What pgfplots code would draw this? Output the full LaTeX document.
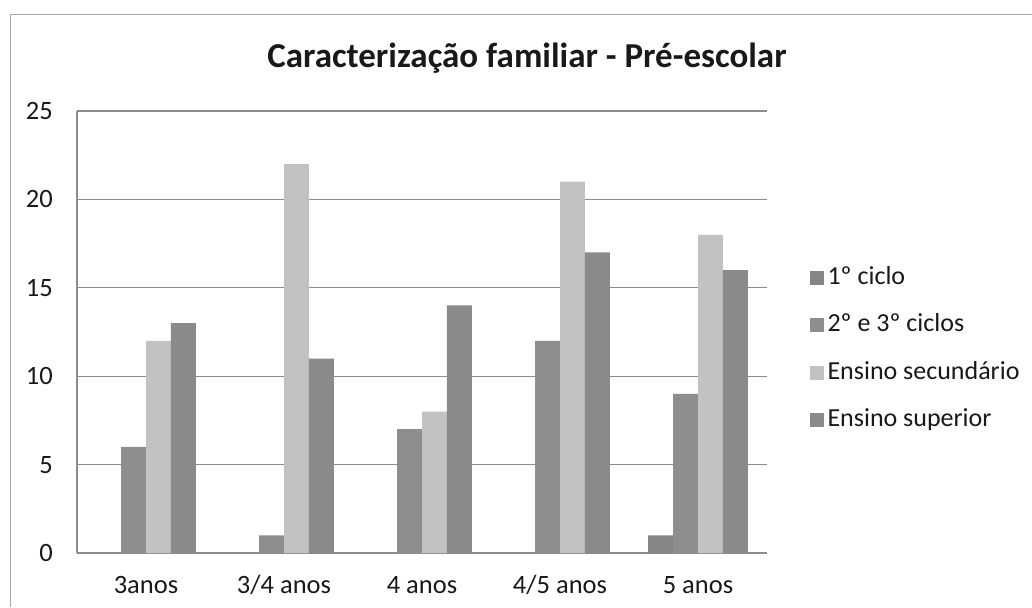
\documentclass[border=0pt]{standalone}
\usepackage{fontspec}
\setmainfont{Carlito}
\usepackage{pgfplots}
\pgfplotsset{compat=1.18}
\definecolor{cA}{HTML}{858585}
\definecolor{cB}{HTML}{8E8E8E}
\definecolor{cC}{HTML}{C2C2C2}
\definecolor{cD}{HTML}{8A8A8A}
\definecolor{gridc}{HTML}{8C8C8C}
\begin{document}
\begin{tikzpicture}[x=1pt,y=1pt]
\useasboundingbox (0,0) rectangle (1032,607);
\fill[white] (0,0) rectangle (1032,607);
\draw[gray!70, line width=1pt] (10,0) -- (10,592) -- (1032,592);
\node[anchor=base, font=\fontsize{35}{38}\selectfont\bfseries, text=black!90] at (527,539) {Caracterização familiar - Pré-escolar};
\begin{axis}[
  at={(77pt,54pt)}, anchor=south west,
  width=690pt, height=442pt, scale only axis,
  ybar=0pt, bar width=0.181,
  xmin=-0.5, xmax=4.5, ymin=0, ymax=25,
  xtick={0,...,4}, xticklabels={3anos,3/4 anos,4 anos,4/5 anos,5 anos},
  ytick={0,5,...,25},
  /pgf/number format/assume math mode=true,
  axis x line=bottom, axis y line=left,
  axis line style={-, draw=gridc, line width=1.1pt},
  ymajorgrids, grid style={gridc, line width=1.1pt},
  major tick length=0pt,
  tick label style={font=\fontsize{26.5}{30}\selectfont, text=black!90},
  yticklabel style={anchor=base east, inner sep=0pt, xshift=-24pt, yshift=-8.5pt},
  xticklabel style={anchor=base, inner sep=0pt, yshift=-40pt},
  legend style={at={(1.057,0.462)}, anchor=west, draw=none, fill=none,
    font=\fontsize{26}{30}\selectfont, text=black!90,
    nodes={inner sep=0pt, text height=19pt, text depth=6pt},
    row sep=22.5pt},
  legend cell align=left,
  legend image code/.code={\fill[#1] (0pt,-7pt) rectangle (14pt,7pt); \path (18pt,0pt);},
]
\addplot[fill=cA, draw=none] coordinates {(0,0) (1,0) (2,0) (3,0) (4,1)};
\addplot[fill=cB, draw=none] coordinates {(0,6) (1,1) (2,7) (3,12) (4,9)};
\addplot[fill=cC, draw=none] coordinates {(0,12) (1,22) (2,8) (3,21) (4,18)};
\addplot[fill=cD, draw=none] coordinates {(0,13) (1,11) (2,14) (3,17) (4,16)};
\legend{1º ciclo, 2º e 3º ciclos, Ensino secundário, Ensino superior}
\end{axis}
\end{tikzpicture}
\end{document}
